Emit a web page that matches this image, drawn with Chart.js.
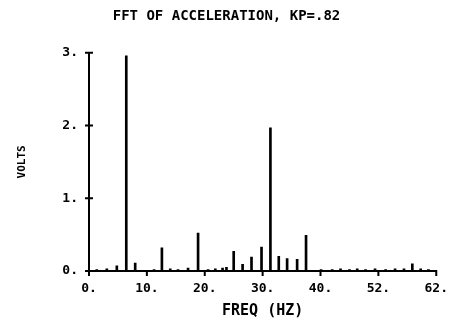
<!DOCTYPE html>
<html>
<head>
<meta charset="utf-8">
<script src="https://cdn.jsdelivr.net/npm/chart.js@4"></script>
<style>
  html, body { margin: 0; padding: 0; background: #fff; }
  #wrap { width: 458px; height: 324px; }
</style>
</head>
<body>
<div id="wrap"><canvas id="c" width="458" height="324"></canvas></div>
<script>
// Spectrum lines: frequency (Hz) and amplitude (volts)
const freqs = [1.4, 3.2, 5.0, 6.7, 8.3, 11.7, 13.1, 14.6, 16.0, 17.8, 19.6, 21.4, 22.7, 24.0, 24.7,
               26.0, 27.6, 29.2, 31.0, 32.6, 34.1, 35.6, 37.4, 39.0, 41.7, 43.7, 45.2, 46.8, 48.2,
               49.7, 51.4, 53.3, 55.0, 56.6, 58.1, 59.6, 61.0];
const volts = [0.02, 0.03, 0.07, 2.96, 0.11, 0.02, 0.32, 0.03, 0.02, 0.04, 0.52, 0.02, 0.03, 0.04, 0.05,
               0.27, 0.09, 0.19, 0.33, 1.97, 0.20, 0.17, 0.16, 0.49, 0.02, 0.02, 0.03, 0.02, 0.03,
               0.02, 0.03, 0.02, 0.03, 0.03, 0.10, 0.03, 0.02];

// Axis ticks
const xTickValues = [0, 10.4, 20.8, 31.2, 41.6, 52.0, 62.4];
const xTickLabels = ["0.", "10.", "20.", "30.", "40.", "52.", "62."];
const yTickValues = [0, 1, 2, 3];
const yTickLabels = ["0.", "1.", "2.", "3."];

const INK = '#000';
const FONT = "'DejaVu Sans Mono', monospace";

// Short cross-shaped tick marks on both axes
const crossTicks = {
  id: 'crossTicks',
  afterDraw(chart) {
    const { ctx, scales: { x, y } } = chart;
    ctx.save();
    ctx.strokeStyle = INK;
    ctx.lineWidth = 2;
    ctx.beginPath();
    yTickValues.forEach(v => {
      const py = y.getPixelForValue(v);
      ctx.moveTo(x.left - 4, py);
      ctx.lineTo(x.left + 4, py);
    });
    xTickValues.forEach(v => {
      const px = x.getPixelForValue(v);
      ctx.moveTo(px, y.bottom - 1);
      ctx.lineTo(px, y.bottom + 5);
    });
    ctx.stroke();
    ctx.restore();
  }
};

new Chart(document.getElementById('c'), {
  type: 'bar',
  data: {
    datasets: [{
      data: freqs.map((f, i) => ({ x: f, y: volts[i] })),
      backgroundColor: INK,
      borderWidth: 0,
      barThickness: 2
    }]
  },
  options: {
    responsive: false,
    animation: false,
    events: [],
    layout: { padding: { left: 16, right: 21, top: 0, bottom: 4 } },
    plugins: {
      legend: { display: false },
      tooltip: { enabled: false },
      title: {
        display: true,
        text: 'FFT OF ACCELERATION, KP=.82',
        color: INK,
        font: { family: FONT, size: 14, weight: 'bold' },
        padding: { top: 8, bottom: 28 }
      }
    },
    scales: {
      x: {
        type: 'linear',
        min: 0,
        max: 62.4,
        offset: false,
        afterBuildTicks: s => { s.ticks = xTickValues.map(v => ({ value: v })); },
        afterFit: s => { s.height = 49; },
        ticks: {
          autoSkip: false,
          maxRotation: 0,
          padding: 10,
          color: INK,
          font: { family: FONT, size: 13, weight: 'bold' },
          callback: (v, i) => xTickLabels[i]
        },
        grid: { display: false, drawTicks: false },
        border: { display: true, color: INK, width: 2 },
        title: {
          display: true,
          text: 'FREQ (HZ)',
          color: INK,
          font: { family: FONT, size: 15, weight: 'bold' },
          padding: 0
        }
      },
      y: {
        min: 0,
        max: 3,
        afterBuildTicks: s => { s.ticks = yTickValues.map(v => ({ value: v })); },
        afterFit: s => { s.width = 73; },
        ticks: {
          padding: 11,
          color: INK,
          font: { family: FONT, size: 13, weight: 'bold' },
          callback: (v, i) => yTickLabels[i]
        },
        grid: { display: false, drawTicks: false },
        border: { display: true, color: INK, width: 2 },
        title: {
          display: true,
          text: 'VOLTS',
          color: INK,
          font: { family: FONT, size: 11, weight: 'bold' },
          padding: 0
        }
      }
    }
  },
  plugins: [crossTicks]
});
</script>
</body>
</html>
